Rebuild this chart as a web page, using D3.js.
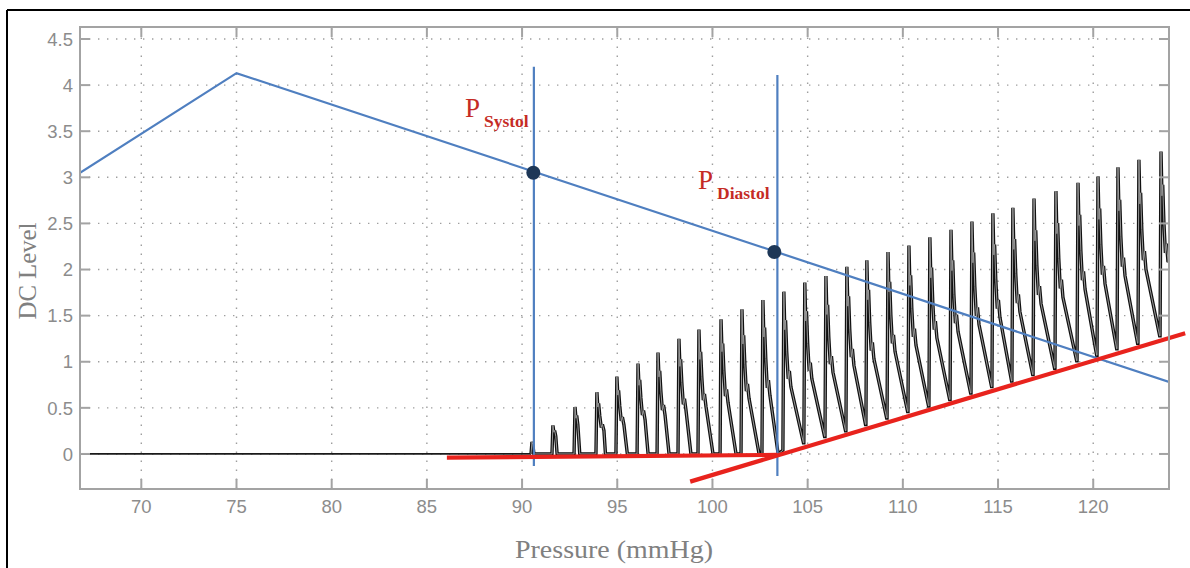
<!DOCTYPE html>
<html>
<head>
<meta charset="utf-8">
<script src="https://cdn.jsdelivr.net/npm/d3@7"></script>
<style>
  html, body { margin: 0; padding: 0; background: #fff; }
  svg { display: block; }
</style>
</head>
<body>
<svg id="chart" width="1190" height="568"></svg>
<script>
// ---- axes ----
const xDomain = [66.78, 123.98];
const yDomain = [-0.38, 4.63];
const xTicks = [70, 75, 80, 85, 90, 95, 100, 105, 110, 115, 120];
const yTicks = [0, 0.5, 1, 1.5, 2, 2.5, 3, 3.5, 4, 4.5];
const yTickLabels = ["0", "0.5", "1", "1.5", "2", "2.5", "3", "3.5", "4", "4.5"];

// ---- DC level curve (blue) ----
const dcPressure = [66.78, 75.0, 123.98];
const dcLevel = [3.05, 4.13, 0.78];

// ---- systolic / diastolic markers ----
const markerNames = ["Systol", "Diastol"];
const markerPressure = [90.62, 103.41];
const markerTop = [4.20, 4.11];
const markerBottom = [-0.13, -0.24];
const dotPressure = [90.59, 103.25];
const dotLevel = [3.05, 2.19];
const labelPressure = [87.0, 99.24];
const labelLevel = [3.655, 2.87];

// ---- envelope lines (red) ----
const baseEnvelope = [[86.05, -0.04], [103.41, -0.01]];
const riseEnvelope = [[98.83, -0.30], [124.83, 1.31]];

// ---- oscillation beats (black trace) ----
const beatOnset = [90.47, 91.57, 92.73, 93.88, 94.93, 96.04, 97.09, 98.19, 99.24, 100.40,
  101.50, 102.60, 103.70, 104.80, 105.91, 107.01, 108.06, 109.17, 110.27, 111.37,
  112.48, 113.58, 114.68, 115.73, 116.84, 117.99, 119.15, 120.20, 121.25, 122.35, 123.51];
const beatPeak = [0.13, 0.31, 0.51, 0.67, 0.84, 0.98, 1.10, 1.25, 1.35, 1.46,
  1.57, 1.67, 1.76, 1.86, 1.93, 2.03, 2.10, 2.19, 2.26, 2.35,
  2.43, 2.52, 2.61, 2.67, 2.77, 2.85, 2.94, 3.01, 3.11, 3.19, 3.28];
const beatTrough = [0, 0, 0, 0, 0, 0, 0, 0, 0, 0,
  0, 0, 0.04, 0.12, 0.19, 0.25, 0.32, 0.39, 0.46, 0.52,
  0.59, 0.66, 0.73, 0.79, 0.86, 0.93, 1.01, 1.07, 1.14, 1.20, 1.28];
const beatNotch = [0.05, 0.14, 0.24, 0.32, 0.40, 0.47, 0.53, 0.60, 0.65, 0.70,
  0.76, 0.80, 0.90, 0.99, 1.06, 1.14, 1.21, 1.29, 1.36, 1.44,
  1.51, 1.59, 1.67, 1.73, 1.82, 1.89, 1.98, 2.04, 2.13, 2.20, 2.28];
// where each beat's decline ends, and the level it ends at
const decayEnd = [90.62, 91.84, 93.03, 94.38, 95.53, 96.62, 97.72, 98.87, 100.03, 101.24,
  102.45, 103.45, 104.78, 105.89, 106.99, 108.04, 109.15, 110.25, 111.35, 112.46,
  113.56, 114.66, 115.71, 116.82, 117.97, 119.13, 120.18, 121.23, 122.33, 123.49, 123.98];
const decayLevel = [0, 0, 0, 0, 0, 0, 0, 0, 0, 0,
  0, 0, 0.12, 0.19, 0.25, 0.32, 0.39, 0.46, 0.52, 0.59,
  0.66, 0.73, 0.79, 0.86, 0.93, 1.01, 1.07, 1.14, 1.20, 1.28, 2.10];
const traceStart = [66.78, 0];

// ---- layout ----
const W = 1190, H = 568;
const plot = { left: 80, right: 1169, top: 27, bottom: 489 };
const svg = d3.select("#chart");

const x = d3.scaleLinear().domain(xDomain).range([plot.left, plot.right]);
const y = d3.scaleLinear().domain(yDomain).range([plot.bottom, plot.top]);

// outer frame
svg.append("line").attr("x1", 7).attr("x2", 7).attr("y1", 10).attr("y2", H)
  .attr("stroke", "#000").attr("stroke-width", 2);
svg.append("line").attr("x1", 7).attr("x2", W).attr("y1", 10).attr("y2", 10)
  .attr("stroke", "#000").attr("stroke-width", 2);

// dotted grid
const grid = svg.append("g").attr("stroke", "#9e9e9e").attr("stroke-width", 1.4)
  .attr("stroke-dasharray", "1.4,7.6");
grid.selectAll("line.gx").data(xTicks).join("line")
  .attr("x1", d => x(d)).attr("x2", d => x(d))
  .attr("y1", plot.bottom).attr("y2", plot.top);
grid.selectAll("line.gy").data(yTicks).join("line")
  .attr("y1", d => y(d)).attr("y2", d => y(d))
  .attr("x1", plot.left).attr("x2", plot.right);

// clip for data inside the axes box
svg.append("clipPath").attr("id", "plotClip").append("rect")
  .attr("x", plot.left).attr("y", plot.top)
  .attr("width", plot.right - plot.left).attr("height", plot.bottom - plot.top);

// build the oscillation trace from the beat readings
const beats = [];
beatOnset.forEach((on, i) => {
  const tr = beatTrough[i], pk = beatPeak[i], nt = beatNotch[i];
  const amp = pk - tr, end = decayEnd[i];
  const shape = [
    [on, tr],
    [on + 0.05, pk],
    [on + 0.10, tr + 0.76 * amp],
    [on + 0.14, tr + 0.82 * amp],
    [on + 0.20, tr + 0.62 * amp],
    [on + 0.28, nt - 0.05 * amp],
    [on + 0.34, nt],
    [on + 0.42, nt - 0.10 * amp]
  ];
  shape.forEach((p, k) => { if (k < 2 || p[0] < end - 0.04) beats.push(p); });
  beats.push([end, decayLevel[i]]);
});

const line = d3.line().x(d => x(d[0])).y(d => y(d[1]));
const dataG = svg.append("g").attr("clip-path", "url(#plotClip)");
// resting segment before the first beat
dataG.append("path").datum([traceStart, beats[0]]).attr("d", line)
  .attr("fill", "none").attr("stroke", "#1a1a1a").attr("stroke-width", 1.8);
dataG.append("path").datum(beats).attr("d", line)
  .attr("fill", "none").attr("stroke", "#111").attr("stroke-width", 3.4)
  .attr("stroke-linejoin", "miter").attr("stroke-miterlimit", 2);
dataG.append("path").datum(beats).attr("d", line)
  .attr("fill", "none").attr("stroke", "#9a9a9a").attr("stroke-width", 1.0);

// DC level curve
const dcPts = dcPressure.map((p, i) => [p, dcLevel[i]]);
dataG.append("path").datum(dcPts).attr("d", line)
  .attr("fill", "none").attr("stroke", "#4f7fc0").attr("stroke-width", 2.2);

// vertical marker lines
svg.selectAll("line.marker").data(markerPressure).join("line")
  .attr("x1", d => x(d)).attr("x2", d => x(d))
  .attr("y1", (d, i) => y(markerTop[i])).attr("y2", (d, i) => y(markerBottom[i]))
  .attr("stroke", "#4f7fc0").attr("stroke-width", 2.2);

// red envelope lines
[baseEnvelope, riseEnvelope].forEach(seg => {
  svg.append("path").datum(seg).attr("d", line)
    .attr("fill", "none").attr("stroke", "#e8231d").attr("stroke-width", 4.2)
    .attr("stroke-linecap", "butt");
});

// marker dots
svg.selectAll("circle.dot").data(dotPressure).join("circle")
  .attr("cx", d => x(d)).attr("cy", (d, i) => y(dotLevel[i])).attr("r", 7)
  .attr("fill", "#1d3757");

// axes box and inward ticks
const axisColor = "#a3a3a3";
svg.append("rect").attr("x", plot.left).attr("y", plot.top)
  .attr("width", plot.right - plot.left).attr("height", plot.bottom - plot.top)
  .attr("fill", "none").attr("stroke", axisColor).attr("stroke-width", 2);
const tickLen = 10;
const ticks = svg.append("g").attr("stroke", axisColor).attr("stroke-width", 2);
xTicks.forEach(t => {
  ticks.append("line").attr("x1", x(t)).attr("x2", x(t)).attr("y1", plot.bottom).attr("y2", plot.bottom - tickLen);
  ticks.append("line").attr("x1", x(t)).attr("x2", x(t)).attr("y1", plot.top).attr("y2", plot.top + tickLen);
});
yTicks.forEach(t => {
  ticks.append("line").attr("y1", y(t)).attr("y2", y(t)).attr("x1", plot.left).attr("x2", plot.left + tickLen);
  ticks.append("line").attr("y1", y(t)).attr("y2", y(t)).attr("x1", plot.right).attr("x2", plot.right - tickLen);
});

// tick labels
const tickFont = "'Liberation Sans', Arial, sans-serif";
svg.append("g").selectAll("text").data(xTicks).join("text")
  .attr("x", d => x(d)).attr("y", 513)
  .attr("text-anchor", "middle").attr("font-family", tickFont).attr("font-size", 18.5)
  .attr("fill", "#8c8c8c").text(d => d);
svg.append("g").selectAll("text").data(yTicks).join("text")
  .attr("x", 73).attr("y", d => y(d)).attr("dy", "0.36em")
  .attr("text-anchor", "end").attr("font-family", tickFont).attr("font-size", 18.5)
  .attr("fill", "#8c8c8c").text((d, i) => yTickLabels[i]);

// axis titles
const serif = "'Liberation Serif', 'Times New Roman', serif";
svg.append("text").attr("x", 614).attr("y", 558).attr("text-anchor", "middle")
  .attr("font-family", serif).attr("font-size", 25).attr("fill", "#808080")
  .attr("textLength", 198).attr("lengthAdjust", "spacingAndGlyphs")
  .text("Pressure (mmHg)");
svg.append("text").attr("transform", "translate(36,271) rotate(-90)")
  .attr("text-anchor", "middle").attr("font-family", serif).attr("font-size", 25)
  .attr("fill", "#808080").attr("textLength", 97).attr("lengthAdjust", "spacingAndGlyphs")
  .text("DC Level");

// P labels with subscripts
markerNames.forEach((name, i) => {
  const t = svg.append("text").attr("x", x(labelPressure[i])).attr("y", y(labelLevel[i]))
    .attr("font-family", serif).attr("fill", "#c52b25");
  t.append("tspan").attr("font-size", 27).text("P");
  t.append("tspan").attr("font-size", 17.5).attr("font-weight", "bold")
    .attr("dx", 4).attr("dy", 10).text(name);
});
</script>
</body>
</html>
